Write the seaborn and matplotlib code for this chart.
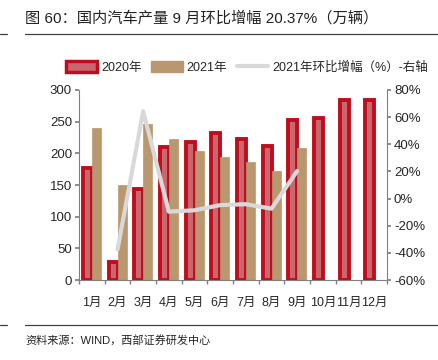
import numpy as np
import pandas as pd
import matplotlib
matplotlib.use("Agg")
import matplotlib.pyplot as plt
import seaborn as sns
from matplotlib.patches import Patch
from matplotlib.lines import Line2D
from matplotlib.ticker import MultipleLocator, FuncFormatter

months = ["1月", "2月", "3月", "4月", "5月", "6月", "7月", "8月", "9月", "10月", "11月", "12月"]
prod_2020 = [177.2, 28.5, 143.2, 210.2, 218.7, 232.5, 222.3, 211.8, 252.6, 255.6, 284.7, 284.0]
prod_2021 = [240.3, 150.3, 246.9, 223.3, 204.1, 194.3, 186.3, 172.5, 207.7, np.nan, np.nan, np.nan]
mom_months = ["2月", "3月", "4月", "5月", "6月", "7月", "8月", "9月"]
mom_2021 = [-37.5, 64.3, -9.6, -8.6, -4.8, -4.1, -7.4, 20.37]

RED_EDGE = "#c00d1e"
RED_FILL = "#c8686e"
TAN = "#b9976f"
GRAY = "#d9d9d9"

sns.set_theme(style="white")
plt.rcParams["font.family"] = ["Liberation Sans", "Noto Sans CJK SC"]

df = pd.DataFrame({
    "month": months * 2,
    "year": ["2020年"] * 12 + ["2021年"] * 12,
    "value": prod_2020 + prod_2021,
})

fig = plt.figure(figsize=(4.39, 3.6), dpi=100)
ax = fig.add_axes([0.18, 0.222, 0.7016, 0.528])

sns.barplot(data=df, x="month", y="value", hue="year", order=months,
            palette=[RED_FILL, TAN], width=0.7, ax=ax, legend=False,
            saturation=1)

# 2020 bars get the thick red outline
for p in ax.containers[0]:
    p.set_edgecolor(RED_EDGE)
    p.set_linewidth(2.8)
for p in ax.containers[1]:
    p.set_edgecolor(TAN)
    p.set_linewidth(0.5)

ax.set_ylim(0, 300)
ax.set_xlim(-0.5, 11.5)
ax.yaxis.set_major_locator(MultipleLocator(50))
ax.set_xlabel("")
ax.set_ylabel("")
for s in ["top", "right"]:
    ax.spines[s].set_visible(False)
for s in ["left", "bottom"]:
    ax.spines[s].set_color("#808080")
    ax.spines[s].set_linewidth(0.8)
ax.tick_params(axis="y", left=True, length=3, color="#808080", labelsize=9.5, pad=2)
ax.tick_params(axis="x", bottom=False, labelsize=9, pad=6)
ax.set_xticks(np.arange(-0.5, 12, 1), minor=True)
ax.tick_params(axis="x", which="minor", bottom=True, length=3, color="#808080")

ax2 = ax.twinx()
pos = [months.index(m) for m in mom_months]
sns.lineplot(x=pos, y=mom_2021, ax=ax2, color=GRAY, linewidth=3)
ax2.set_ylim(-60, 80)
ax2.yaxis.set_major_locator(MultipleLocator(20))
ax2.yaxis.set_major_formatter(FuncFormatter(lambda v, _: f"{v:.0f}%"))
for s in ["top", "left", "bottom"]:
    ax2.spines[s].set_visible(False)
ax2.spines["right"].set_color("#808080")
ax2.spines["right"].set_linewidth(0.8)
ax2.tick_params(axis="y", right=True, length=3, color="#808080", labelsize=9.5, pad=2)
ax2.set_xlim(-0.5, 11.5)

handles = [
    Patch(facecolor=RED_FILL, edgecolor=RED_EDGE, linewidth=2.5),
    Patch(facecolor=TAN, edgecolor=TAN),
    Line2D([0], [0], color=GRAY, linewidth=3),
]
labels = ["2020年", "2021年", "2021年环比增幅（%）-右轴"]
fig.legend(handles, labels, loc="center", bbox_to_anchor=(0.562, 0.812), ncol=3,
           frameon=False, fontsize=9, handlelength=2.5, handleheight=0.9,
           columnspacing=0.8, handletextpad=0.3, borderaxespad=0)

# header / footer
fig.text(0.057, 0.95, "图 60：国内汽车产量 9 月环比增幅 20.37%（万辆）", fontsize=11,
         ha="left", va="center", color="#222222")
fig.add_artist(Line2D([0.057, 1.0], [0.906, 0.906], color="#404040", linewidth=0.9))
fig.add_artist(Line2D([0.0, 0.016], [0.906, 0.906], color="#404040", linewidth=0.9))
fig.add_artist(Line2D([0.057, 1.0], [0.097, 0.097], color="#404040", linewidth=0.9))
fig.add_artist(Line2D([0.0, 0.016], [0.097, 0.097], color="#404040", linewidth=0.9))
fig.text(0.057, 0.055, "资料来源：WIND，西部证券研发中心", fontsize=8,
         ha="left", va="center", color="#222222")

fig.savefig("out.png", dpi=100)
